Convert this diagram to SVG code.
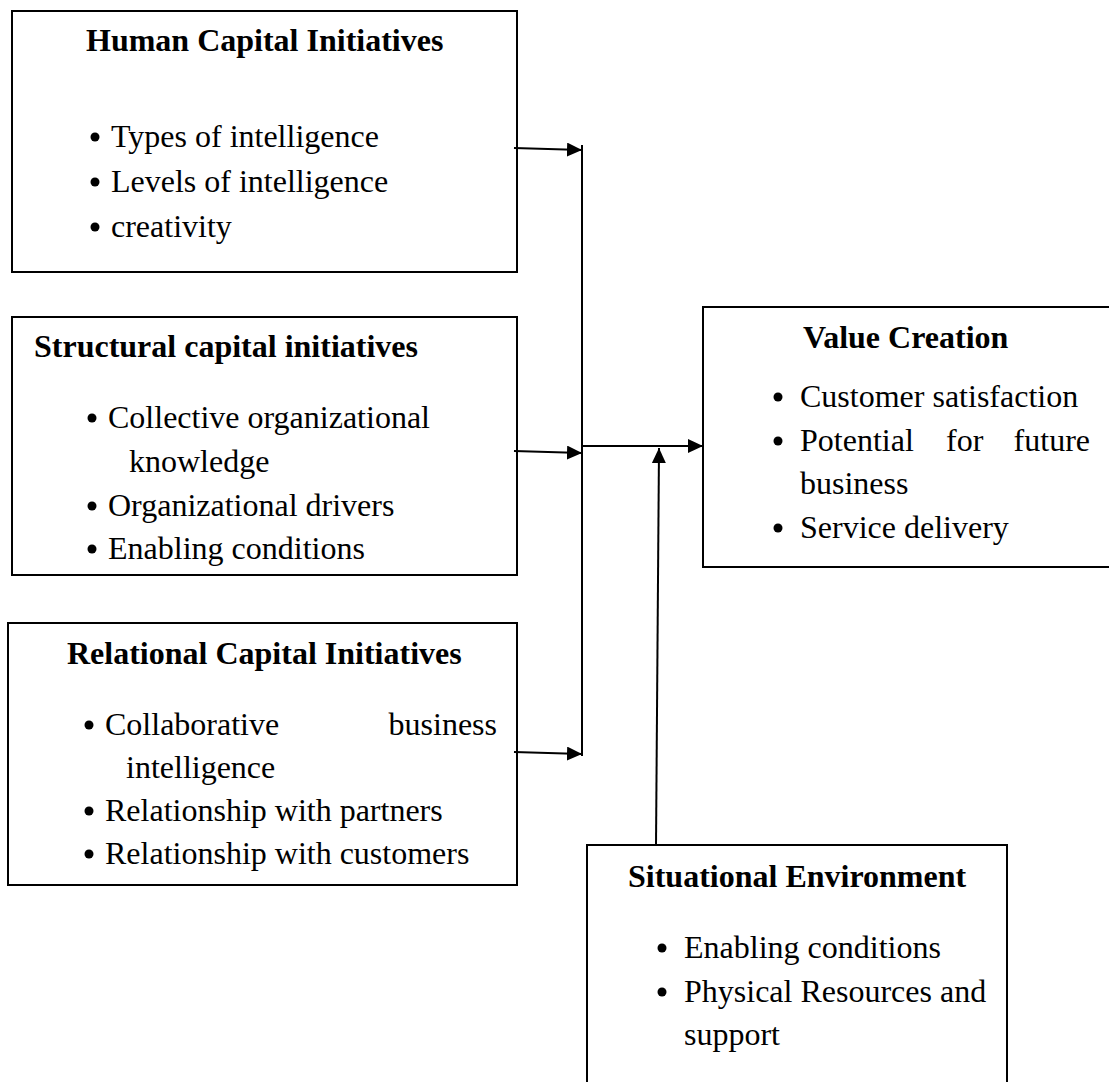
<svg xmlns="http://www.w3.org/2000/svg" width="1109" height="1082" viewBox="0 0 1109 1082">
<style>
  .box { fill: #ffffff; stroke: #000000; stroke-width: 2; }
  .title { font-family: "Liberation Serif", "Times New Roman", serif; font-size: 32px; font-weight: bold; fill: #000000; }
  .item { font-family: "Liberation Serif", "Times New Roman", serif; font-size: 32px; fill: #000000; }
  .dot { fill: #000000; }
  .conn { stroke: #000000; stroke-width: 2; fill: none; }
</style>
<defs>
  <marker id="arrow" viewBox="0 0 15 14" refX="15" refY="7" markerWidth="15" markerHeight="14" markerUnits="userSpaceOnUse" orient="auto">
    <path d="M0,0 L15,7 L0,14 Z" fill="#000000"/>
  </marker>
</defs>
<rect width="1109" height="1082" fill="#ffffff"/>

<g id="human-capital">
  <rect class="box" x="12" y="11" width="505" height="261"/>
  <text class="title" x="86" y="51">Human Capital Initiatives</text>
  <circle class="dot" cx="95" cy="137" r="4.5"/>
  <text class="item" x="111" y="147">Types of intelligence</text>
  <circle class="dot" cx="95" cy="182" r="4.5"/>
  <text class="item" x="111" y="192">Levels of intelligence</text>
  <circle class="dot" cx="95" cy="227" r="4.5"/>
  <text class="item" x="111" y="237">creativity</text>
</g>

<g id="structural-capital">
  <rect class="box" x="12" y="317" width="505" height="258"/>
  <text class="title" x="34" y="357">Structural capital initiatives</text>
  <circle class="dot" cx="92" cy="418" r="4.5"/>
  <text class="item" x="108" y="428">Collective organizational</text>
  <text class="item" x="129" y="472">knowledge</text>
  <circle class="dot" cx="92" cy="506" r="4.5"/>
  <text class="item" x="108" y="516">Organizational drivers</text>
  <circle class="dot" cx="92" cy="549" r="4.5"/>
  <text class="item" x="108" y="559">Enabling conditions</text>
</g>

<g id="relational-capital">
  <rect class="box" x="8" y="623" width="509" height="262"/>
  <text class="title" x="67" y="664">Relational Capital Initiatives</text>
  <circle class="dot" cx="89" cy="725" r="4.5"/>
  <text class="item" x="105" y="735">Collaborative</text>
  <text class="item" x="497" y="735" text-anchor="end">business</text>
  <text class="item" x="126" y="778">intelligence</text>
  <circle class="dot" cx="89" cy="811" r="4.5"/>
  <text class="item" x="105" y="821">Relationship with partners</text>
  <circle class="dot" cx="89" cy="854" r="4.5"/>
  <text class="item" x="105" y="864">Relationship with customers</text>
</g>

<g id="value-creation">
  <rect class="box" x="703" y="307" width="410" height="260"/>
  <text class="title" x="803" y="348">Value Creation</text>
  <circle class="dot" cx="778" cy="397" r="4.5"/>
  <text class="item" x="800" y="407">Customer satisfaction</text>
  <circle class="dot" cx="778" cy="441" r="4.5"/>
  <text class="item" x="800" y="451">Potential</text>
  <text class="item" x="946" y="451">for</text>
  <text class="item" x="1090" y="451" text-anchor="end">future</text>
  <text class="item" x="800" y="494">business</text>
  <circle class="dot" cx="778" cy="528" r="4.5"/>
  <text class="item" x="800" y="538">Service delivery</text>
</g>

<g id="situational-environment">
  <rect class="box" x="587" y="845" width="420" height="260"/>
  <text class="title" x="628" y="887">Situational Environment</text>
  <circle class="dot" cx="662" cy="948" r="4.5"/>
  <text class="item" x="684" y="958">Enabling conditions</text>
  <circle class="dot" cx="662" cy="992" r="4.5"/>
  <text class="item" x="684" y="1002">Physical Resources and</text>
  <text class="item" x="684" y="1045">support</text>
</g>

<g id="connectors">
  <line class="conn" x1="582" y1="145" x2="582" y2="756"/>
  <line class="conn" x1="514" y1="148" x2="582" y2="150" marker-end="url(#arrow)"/>
  <line class="conn" x1="514" y1="451" x2="582" y2="453" marker-end="url(#arrow)"/>
  <line class="conn" x1="514" y1="752" x2="582" y2="754" marker-end="url(#arrow)"/>
  <line class="conn" x1="582" y1="446" x2="703" y2="446" marker-end="url(#arrow)"/>
  <line class="conn" x1="656" y1="845" x2="659" y2="448" marker-end="url(#arrow)"/>
</g>
</svg>
